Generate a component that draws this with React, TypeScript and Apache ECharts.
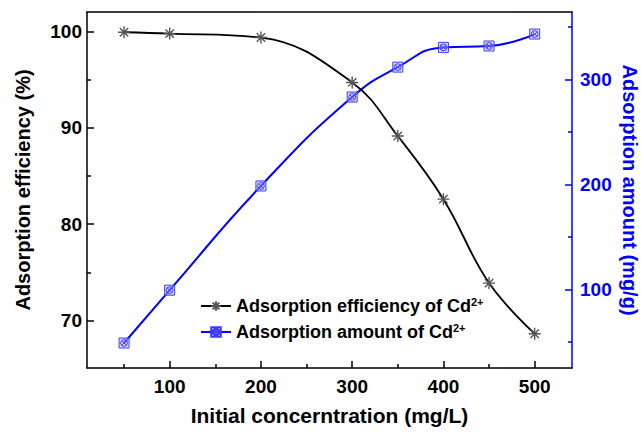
import React, { useEffect, useRef } from "react";
import * as echarts from "echarts";

// Initial Cd2+ concentration (mg/L)
const concentrations = [50, 100, 200, 300, 350, 400, 450, 500];
// Adsorption efficiency (%)
const efficiency = [99.9, 99.76, 99.35, 94.7, 89.14, 82.6, 73.9, 68.65];
// Adsorption amount (mg/g)
const amount = [49.2, 99.5, 198.8, 283.5, 312.0, 330.8, 332.1, 343.5];

const xMajorTicks = [100, 200, 300, 400, 500];
const xMinorTicks = [50, 150, 250, 350, 450];
const leftMajorTicks = [70, 80, 90, 100];
const leftMinorTicks = [75, 85, 95];
const rightMajorTicks = [100, 200, 300];
const rightMinorTicks = [50, 150, 250, 350];

const FONT = 'Arial, "Liberation Sans", sans-serif';
const BLUE = "#0000ff";

const X_RANGE = { min: 9.4, max: 540.9 };
const LEFT_RANGE = { min: 65.1, max: 102 };
const RIGHT_RANGE = { min: 25.4, max: 364.5 };

const starSymbol =
  "path://M5 0 L5 10 M0 5 L10 5 M1.5 1.5 L8.5 8.5 M1.5 8.5 L8.5 1.5";
const boxSymbol =
  "path://M0 0 L10 0 L10 10 L0 10 Z M1.6 5 A3.4 3.4 0 1 1 8.4 5 A3.4 3.4 0 1 1 1.6 5 Z M2.6 2.6 L7.4 7.4 M2.6 7.4 L7.4 2.6";

export default function App() {
  const ref = useRef<HTMLDivElement>(null);

  useEffect(() => {
    if (!ref.current) return;
    const chart = echarts.init(ref.current, null, { renderer: "svg" });

    const tickLabel = (color: string) => ({
      color,
      fontFamily: FONT,
      fontWeight: "bold" as const,
      fontSize: 19,
    });

    const option = {
      animation: false,
      backgroundColor: "#ffffff",
      grid: {
        left: 87,
        right: 69,
        top: 12,
        bottom: 64,
        outerBoundsMode: "none",
        containLabel: false,
      },
      legend: {
        orient: "vertical",
        left: 195,
        top: 291,
        itemWidth: 30,
        itemHeight: 12,
        itemGap: 7,
        data: ["eff", "amt"],
        formatter: (name: string) =>
          name === "eff"
            ? "{b|Adsorption efficiency of Cd}{s|2+}"
            : "{b|Adsorption amount of Cd}{s|2+}",
        textStyle: {
          color: "#000",
          rich: {
            b: {
              fontFamily: FONT,
              fontWeight: "bold",
              fontSize: 18,
              lineHeight: 20,
              color: "#000",
            },
            s: {
              fontFamily: FONT,
              fontWeight: "bold",
              fontSize: 11,
              lineHeight: 13,
              verticalAlign: "top",
              color: "#000",
            },
          },
        },
      },
      xAxis: [
        {
          type: "value",
          position: "bottom",
          ...X_RANGE,
          name: "Initial concerntration (mg/L)",
          nameLocation: "middle",
          nameGap: 37,
          nameTextStyle: {
            fontFamily: FONT,
            fontWeight: "bold",
            fontSize: 21,
            color: "#000",
          },
          axisLine: { show: true, lineStyle: { color: "#000", width: 1.5 } },
          axisTick: {
            show: true,
            inside: true,
            length: 7,
            customValues: xMajorTicks,
            lineStyle: { color: "#000", width: 1.5 },
          },
          axisLabel: { ...tickLabel("#000"), margin: 9, customValues: xMajorTicks },
          splitLine: { show: false },
        },
        {
          type: "value",
          position: "bottom",
          offset: 0,
          ...X_RANGE,
          axisLine: { show: false },
          axisTick: {
            show: true,
            inside: true,
            length: 4,
            customValues: xMinorTicks,
            lineStyle: { color: "#000", width: 1.5 },
          },
          axisLabel: { show: false },
          splitLine: { show: false },
        },
        {
          type: "value",
          position: "top",
          offset: 0,
          ...X_RANGE,
          axisLine: { show: true, lineStyle: { color: "#000", width: 1.5 } },
          axisTick: { show: false },
          axisLabel: { show: false },
          splitLine: { show: false },
        },
      ],
      yAxis: [
        {
          type: "value",
          position: "left",
          ...LEFT_RANGE,
          name: "Adsorption efficiency (%)",
          nameLocation: "middle",
          nameGap: 54,
          nameTextStyle: {
            fontFamily: FONT,
            fontWeight: "bold",
            fontSize: 20,
            color: "#000",
          },
          axisLine: { show: true, lineStyle: { color: "#000", width: 1.5 } },
          axisTick: {
            show: true,
            inside: true,
            length: 7,
            customValues: leftMajorTicks,
            lineStyle: { color: "#000", width: 1.5 },
          },
          axisLabel: { ...tickLabel("#000"), margin: 5, customValues: leftMajorTicks },
          splitLine: { show: false },
        },
        {
          type: "value",
          position: "left",
          offset: 0,
          ...LEFT_RANGE,
          axisLine: { show: false },
          axisTick: {
            show: true,
            inside: true,
            length: 4,
            customValues: leftMinorTicks,
            lineStyle: { color: "#000", width: 1.5 },
          },
          axisLabel: { show: false },
          splitLine: { show: false },
        },
        {
          type: "value",
          position: "right",
          offset: 0,
          ...RIGHT_RANGE,
          name: "Adsorption amount (mg/g)",
          nameLocation: "middle",
          nameGap: 48,
          nameMoveOverlap: false,
          nameRotate: -90,
          nameTextStyle: {
            fontFamily: FONT,
            fontWeight: "bold",
            fontSize: 20,
            color: BLUE,
          },
          axisLine: { show: true, lineStyle: { color: BLUE, width: 1.5 } },
          axisTick: {
            show: true,
            inside: true,
            length: 7,
            customValues: rightMajorTicks,
            lineStyle: { color: BLUE, width: 1.5 },
          },
          axisLabel: { ...tickLabel(BLUE), margin: 8, customValues: rightMajorTicks },
          splitLine: { show: false },
        },
        {
          type: "value",
          position: "right",
          offset: 0,
          ...RIGHT_RANGE,
          axisLine: { show: false },
          axisTick: {
            show: true,
            inside: true,
            length: 4,
            customValues: rightMinorTicks,
            lineStyle: { color: BLUE, width: 1.5 },
          },
          axisLabel: { show: false },
          splitLine: { show: false },
        },
      ],
      series: [
        {
          name: "eff",
          type: "line",
          xAxisIndex: 0,
          yAxisIndex: 0,
          data: concentrations.map((c, i) => [c, efficiency[i]]),
          smooth: 0.4,
          symbol: starSymbol,
          symbolSize: 12,
          lineStyle: { color: "#000", width: 1.8 },
          itemStyle: {
            color: "rgba(0,0,0,0)",
            borderColor: "#555",
            borderWidth: 1.4,
          },
          z: 3,
        },
        {
          name: "amt",
          type: "line",
          xAxisIndex: 0,
          yAxisIndex: 2,
          data: concentrations.map((c, i) => [c, amount[i]]),
          smooth: 0.5,
          symbol: boxSymbol,
          symbolSize: 10,
          lineStyle: { color: BLUE, width: 2 },
          itemStyle: {
            color: "rgba(190,190,255,0.5)",
            borderColor: "#3a3aff",
            borderWidth: 1,
          },
          z: 2,
        },
      ],
    };

    chart.setOption(option as any);
    return () => chart.dispose();
  }, []);

  return (
    <div
      ref={ref}
      style={{ position: "fixed", left: 0, top: 0, width: 641, height: 432 }}
    />
  );
}
